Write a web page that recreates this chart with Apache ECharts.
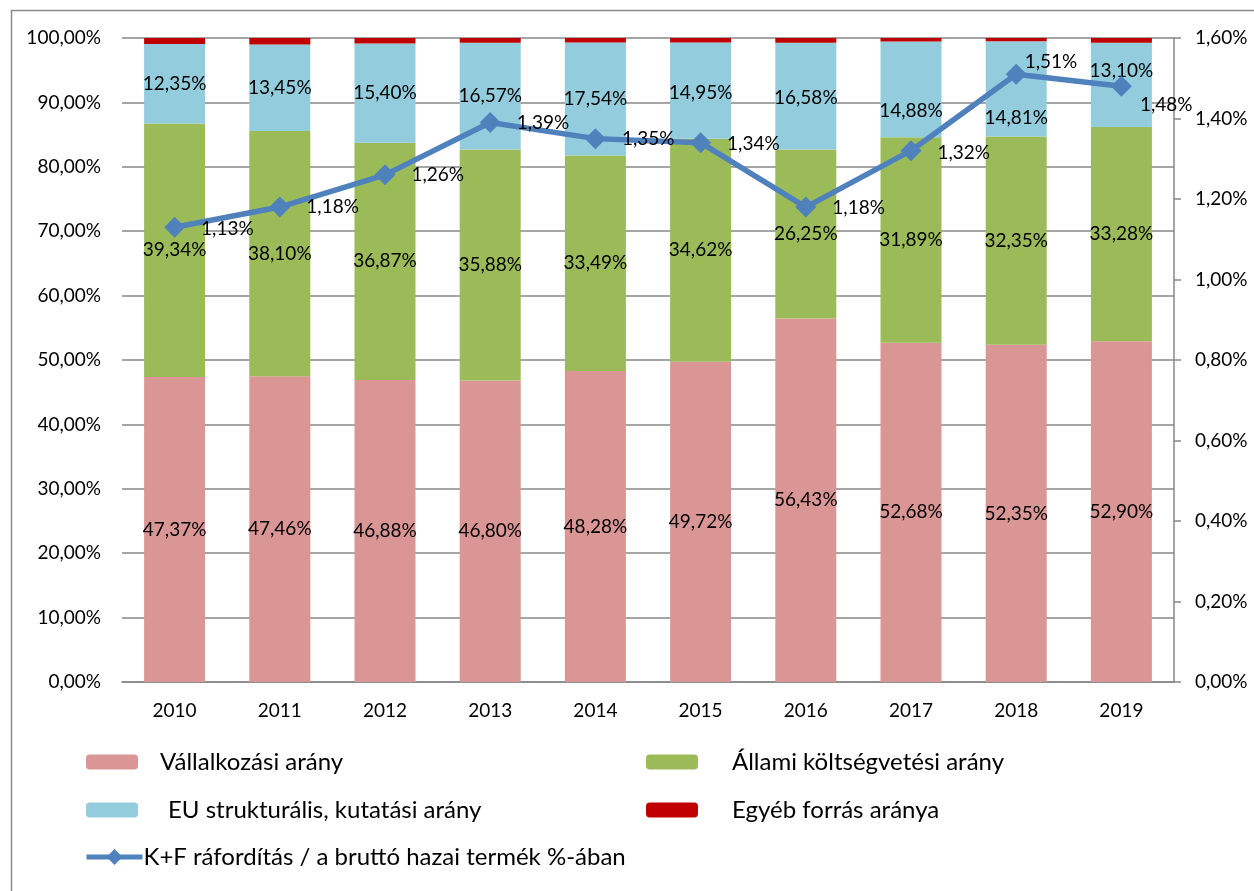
<!DOCTYPE html>
<html>
<head>
<meta charset="utf-8">
<script src="https://cdn.jsdelivr.net/npm/echarts@6/dist/echarts.min.js"></script>
<style>
html,body{margin:0;padding:0;background:#fff;}
#chart{width:1254px;height:891px;}
</style>
</head>
<body>
<div id="chart"></div>
<script>
// ---- data ----
const years = ['2010','2011','2012','2013','2014','2015','2016','2017','2018','2019'];
const vallalkozasi = [47.37, 47.46, 46.88, 46.80, 48.28, 49.72, 56.43, 52.68, 52.35, 52.90];
const allami = [39.34, 38.10, 36.87, 35.88, 33.49, 34.62, 26.25, 31.89, 32.35, 33.28];
const eu = [12.35, 13.45, 15.40, 16.57, 17.54, 14.95, 16.58, 14.88, 14.81, 13.10];
const egyeb = [0.94, 0.99, 0.85, 0.75, 0.69, 0.71, 0.74, 0.55, 0.49, 0.72];
const kf = [1.13, 1.18, 1.26, 1.39, 1.35, 1.34, 1.18, 1.32, 1.51, 1.48];
const leftTicks = [0, 100, 10];
const rightTicks = [0, 1.6, 0.2];

// ---- label position tweaks (styles, kept apart from data) ----
const euLabelOffsetY = [0, 0, 0, 0, 0, 2, 2, 21, 29, -14];
const kfLabelOffset = [[0,2],[0,0],[0,0],[0,0],[0,0],[0,1],[0,1],[0,2],[-18,-12],[-8,19]];

const FONT = 'Lato';
const FS = 19;
const fmt = v => v.toFixed(2).replace('.', ',') + '%';

const chart = echarts.init(document.getElementById('chart'), null, {renderer: 'canvas'});

const barLabel = {show: true, position: 'inside', color: '#000', fontFamily: FONT, fontSize: FS,
  formatter: p => fmt(p.value)};

function legendItem(name, left, top, pad, w, extra) {
  return Object.assign({
    data: [name], left: left, top: top, padding: 0, itemWidth: w || 52, itemHeight: 15,
    selectedMode: false,
    textStyle: {fontFamily: FONT, fontSize: 24, color: '#000', padding: [0, 0, 0, pad]}
  }, extra || {});
}

const option = {
  backgroundColor: '#fff',
  animation: false,
  graphic: [{
    type: 'rect', left: 9, top: 8, shape: {width: 1300, height: 950},
    style: {fill: 'none', stroke: '#8c8c8c', lineWidth: 1.5}, silent: true, z: -10
  }],
  grid: {left: 122, right: 80, top: 38, bottom: 209},
  legend: [
    legendItem('Vállalkozási arány', 86, 750, 17),
    legendItem('Állami költségvetési arány', 646, 750, 29),
    legendItem('EU strukturális, kutatási arány', 86, 798, 25),
    legendItem('Egyéb forrás aránya', 646, 798, 29),
    legendItem('K+F ráfordítás / a bruttó hazai termék %-ában', 84, 845, -4, 56,
      {itemHeight: 20, lineStyle: {width: 5}})
  ],
  xAxis: {
    type: 'category', data: years,
    axisLine: {show: true, lineStyle: {color: '#878787', width: 1.5}},
    axisTick: {show: false},
    axisLabel: {color: '#000', fontFamily: FONT, fontSize: FS, margin: 19}
  },
  yAxis: [{
    type: 'value', min: leftTicks[0], max: leftTicks[1], interval: leftTicks[2],
    axisLine: {show: false}, axisTick: {show: false},
    axisLabel: {color: '#000', fontFamily: FONT, fontSize: FS, margin: 21, formatter: v => fmt(v)},
    splitLine: {show: true, lineStyle: {color: '#878787', width: 1.5}}
  }, {
    type: 'value', min: rightTicks[0], max: rightTicks[1], interval: rightTicks[2],
    position: 'right',
    axisLine: {show: true, lineStyle: {color: '#878787', width: 1.5}},
    axisTick: {show: true, length: 7, lineStyle: {color: '#878787', width: 1.5}},
    axisLabel: {color: '#000', fontFamily: FONT, fontSize: FS, margin: 21, formatter: v => fmt(v)},
    splitLine: {show: false}
  }],
  series: [{
    name: 'Vállalkozási arány', type: 'bar', stack: 'a', barWidth: 61,
    itemStyle: {color: '#D99694'}, label: barLabel, data: vallalkozasi
  }, {
    name: 'Állami költségvetési arány', type: 'bar', stack: 'a', barWidth: 61,
    itemStyle: {color: '#9BBB59'}, label: barLabel, data: allami
  }, {
    name: 'EU strukturális, kutatási arány', type: 'bar', stack: 'a', barWidth: 61,
    itemStyle: {color: '#93CDDD'}, label: barLabel,
    data: eu.map((v, i) => ({value: v, label: {offset: [0, euLabelOffsetY[i]]}}))
  }, {
    name: 'Egyéb forrás aránya', type: 'bar', stack: 'a', barWidth: 61,
    itemStyle: {color: '#C00000'}, label: {show: false}, data: egyeb
  }, {
    name: 'K+F ráfordítás / a bruttó hazai termék %-ában', type: 'line', yAxisIndex: 1,
    symbol: 'diamond', symbolSize: 21, z: 5,
    lineStyle: {color: '#4F81BD', width: 5.5}, itemStyle: {color: '#4F81BD'},
    label: {show: true, position: 'right', distance: 16, color: '#000', fontFamily: FONT, fontSize: FS,
      formatter: p => fmt(p.value)},
    data: kf.map((v, i) => ({value: v, label: {offset: kfLabelOffset[i]}}))
  }]
};
chart.setOption(option);
</script>
</body>
</html>
